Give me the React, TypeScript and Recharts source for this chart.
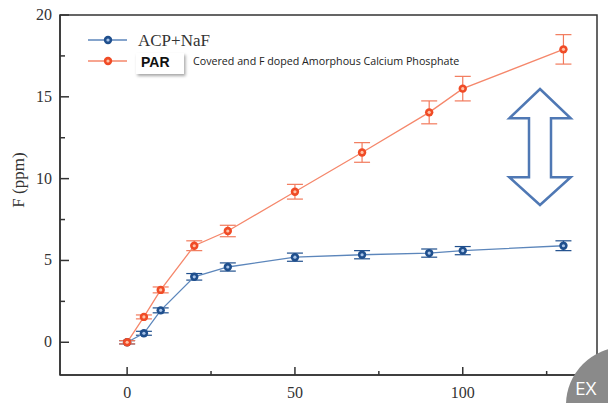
import { LineChart, Line, XAxis, YAxis, ErrorBar, ReferenceArea } from 'recharts';

const times = [0, 5, 10, 20, 30, 50, 70, 90, 100, 130];
const acpNaF = [0, 0.55, 1.95, 4.0, 4.6, 5.2, 5.35, 5.45, 5.6, 5.9];
const acpNaFErr = [0.1, 0.12, 0.15, 0.2, 0.25, 0.25, 0.25, 0.25, 0.25, 0.3];
const par = [0, 1.55, 3.2, 5.9, 6.8, 9.2, 11.6, 14.05, 15.5, 17.9];
const parErr = [0.1, 0.12, 0.18, 0.3, 0.35, 0.45, 0.6, 0.7, 0.75, 0.9];

const xTicks = [0, 25, 50, 75, 100, 125];
const yTicks = [0, 2.5, 5, 7.5, 10, 12.5, 15, 17.5, 20];

const BLUE_LINE = '#5c86bb';
const BLUE_DOT = '#1f4f8d';
const RED_LINE = '#f5876b';
const RED_DOT = '#f04b26';
const AXIS = '#333';
const SERIF = "'Liberation Serif', 'Times New Roman', serif";

const data = times.map((t, i) => ({
    t,
    acp: acpNaF[i],
    acpErr: acpNaFErr[i],
    par: par[i],
    parErr: parErr[i],
}));

const makeDot = (fill: string, inner: string) => (props: any) => {
    const { cx, cy, index } = props;
    if (cx == null || cy == null) return <g key={index} />;
    return (
        <g key={index}>
            <circle cx={cx} cy={cy} r={4.2} fill={fill} />
            <circle cx={cx} cy={cy} r={1.6} fill={inner} />
        </g>
    );
};

const XTick = ({ x, y, payload }: any) => {
    const major = payload.value % 50 === 0;
    return (
        <g>
            <line x1={x} x2={x} y1={y} y2={y - (major ? 8 : 4)} stroke={AXIS} strokeWidth={1.5} />
            {major && (
                <text x={x} y={y + 23} textAnchor="middle" fontSize={16} fill={AXIS} fontFamily={SERIF}>
                    {payload.value}
                </text>
            )}
        </g>
    );
};

const YTick = ({ x, y, payload }: any) => {
    const major = payload.value % 5 === 0;
    return (
        <g>
            <line x1={x} x2={x + (major ? 9 : 5)} y1={y} y2={y} stroke={AXIS} strokeWidth={1.5} />
            {major && (
                <text x={x - 8} y={y + 5} textAnchor="end" fontSize={16} fill={AXIS} fontFamily={SERIF}>
                    {payload.value}
                </text>
            )}
        </g>
    );
};

function Overlay() {
    return (
        <svg width={608} height={403} style={{ position: 'absolute', left: 0, top: 0, pointerEvents: 'none' }}>
            <defs>
                <filter id="sh" x="-20%" y="-20%" width="150%" height="160%">
                    <feDropShadow dx="1.5" dy="2" stdDeviation="1.5" floodColor="#000" floodOpacity="0.35" />
                </filter>
            </defs>
            {/* y axis title */}
            <text x={24} y={180} transform="rotate(-90 24 180)" textAnchor="middle" fontSize={17} fill={AXIS} fontFamily={SERIF}>
                F (ppm)
            </text>
            {/* legend */}
            <line x1={88} x2={127} y1={40} y2={40} stroke={BLUE_LINE} strokeWidth={1.3} />
            <circle cx={108} cy={40} r={4.2} fill={BLUE_DOT} />
            <circle cx={108} cy={40} r={1.6} fill="#a9c5ea" />
            <text x={138} y={46} fontSize={17} fill="#333" fontFamily={SERIF}>ACP+NaF</text>
            <line x1={88} x2={127} y1={61} y2={61} stroke={RED_LINE} strokeWidth={1.3} />
            <circle cx={108} cy={61} r={4.2} fill={RED_DOT} />
            <circle cx={108} cy={61} r={1.6} fill="#ffc2a6" />
            <rect x={136} y={53} width={48} height={21} fill="#fff" filter="url(#sh)" />
            <text x={141} y={67} fontSize={14} fontWeight="bold" fill="#111" fontFamily="'Liberation Sans', Arial, sans-serif">PAR</text>
            <text x={193} y={65} fontSize={10.7} fill="#222" fontFamily="'Open Sans', sans-serif">
                Covered and F doped Amorphous Calcium Phosphate
            </text>
            {/* double arrow */}
            <polygon
                points="540,89 570.7,118.3 551,118.3 551,177.3 570.7,177.3 540,205 509.3,177.3 529,177.3 529,118.3 509.3,118.3"
                fill="#fff" stroke="#4f78b4" strokeWidth={2.5} strokeLinejoin="miter" />
            {/* corner badge */}
            <circle cx={624} cy={405} r={58} fill="#8a8a8a" />
            <text x={575} y={395} fontSize={19} fill="#fff" fontFamily="'Open Sans', sans-serif">EX</text>
        </svg>
    );
}

export default function App() {
    return (
        <div style={{ position: 'absolute', left: 0, top: 0, width: 608, height: 403, background: '#fff' }}>
            <LineChart width={608} height={403} data={data} margin={{ top: 15, right: 11, left: 0, bottom: 0 }}>
                <XAxis dataKey="t" type="number" domain={[-20, 140]} ticks={xTicks}
                    tick={<XTick />} tickLine={false} tickSize={0} tickMargin={0} height={28}
                    axisLine={{ stroke: AXIS, strokeWidth: 1.5 }} allowDataOverflow />
                <YAxis type="number" domain={[-2, 20]} ticks={yTicks} width={60}
                    tick={<YTick />} tickLine={false} tickSize={0} tickMargin={0}
                    axisLine={{ stroke: AXIS, strokeWidth: 1.5 }} allowDataOverflow />
                <ReferenceArea x1={-20} x2={140} y1={-2} y2={20} fill="none" stroke={AXIS} strokeWidth={1.5} ifOverflow="visible" />
                <Line dataKey="acp" stroke={BLUE_LINE} strokeWidth={1.3} dot={makeDot(BLUE_DOT, '#a9c5ea')} isAnimationActive={false}>
                    <ErrorBar dataKey="acpErr" width={8} stroke={BLUE_DOT} strokeWidth={1.2} direction="y" />
                </Line>
                <Line dataKey="par" stroke={RED_LINE} strokeWidth={1.3} dot={makeDot(RED_DOT, '#ffc2a6')} isAnimationActive={false}>
                    <ErrorBar dataKey="parErr" width={8} stroke="#f27a5c" strokeWidth={1.2} direction="y" />
                </Line>
            </LineChart>
            <Overlay />
        </div>
    );
}
